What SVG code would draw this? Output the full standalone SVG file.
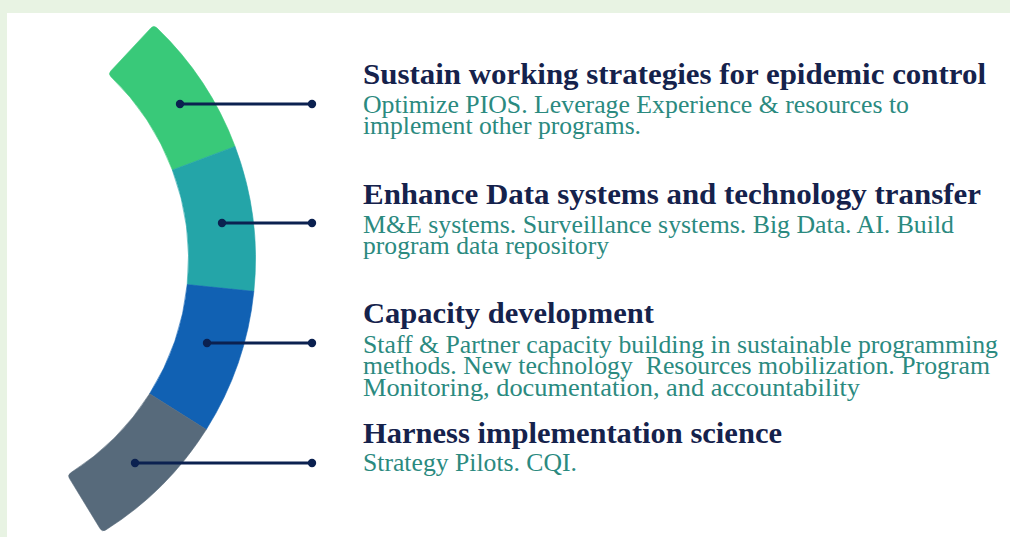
<svg xmlns="http://www.w3.org/2000/svg" width="1010" height="537" viewBox="0 0 1010 537">
  <style>
    .title { font-family: "Liberation Serif", "Times New Roman", serif; font-weight: bold; font-size: 29.5px; fill: #15224c; }
    .desc { font-family: "Liberation Serif", "Times New Roman", serif; font-size: 24.5px; fill: #2b8a7f; }
    .desc.big { font-size: 26px; }
    .link { stroke: #0b2150; stroke-width: 3; fill: none; }
    .dot { fill: #0b2150; }
  </style>

  <!-- page frame -->
  <rect x="0" y="0" width="1010" height="537" fill="#e8f3e3"/>
  <rect x="7" y="13" width="1003" height="524" fill="#ffffff"/>

  <!-- curved band, four segments around a common centre -->
  <g id="seg-sustain">
    <path fill="#39c979" stroke="#39c979" stroke-width="0.6" d="M 110.78 71.03 L 151.01 27.88 Q 153.74 24.95 156.78 27.84 A 320 320 0 0 1 235.05 146.42 L 172.33 169.99 A 253 253 0 0 0 110.93 76.70 Q 108.05 73.96 110.78 71.03 Z"/>
  </g>
  <g id="seg-data">
    <path fill="#24a5a8" stroke="#24a5a8" stroke-width="0.6" d="M 235.05 146.42 A 320 320 0 0 1 253.86 291.34 L 187.20 284.57 A 253 253 0 0 0 172.33 169.99 Z"/>
  </g>
  <g id="seg-capacity">
    <path fill="#1161b3" stroke="#1161b3" stroke-width="0.6" d="M 253.86 291.34 A 320 320 0 0 1 206.28 429.52 L 149.59 393.81 A 253 253 0 0 0 187.20 284.57 Z"/>
  </g>
  <g id="seg-science">
    <path fill="#576a7b" stroke="#576a7b" stroke-width="0.6" d="M 206.28 429.52 A 320 320 0 0 1 105.76 529.95 Q 102.22 532.14 100.14 528.73 L 69.40 478.36 Q 67.32 474.95 70.67 472.86 A 253 253 0 0 0 149.59 393.81 Z"/>
  </g>

  <!-- leader lines -->
  <g id="connectors">
    <line class="link" x1="180" y1="104" x2="312" y2="104"/>
    <circle class="dot" cx="180" cy="104" r="4.2"/>
    <circle class="dot" cx="312" cy="104" r="4.2"/>
    <line class="link" x1="222" y1="223" x2="312" y2="223"/>
    <circle class="dot" cx="222" cy="223" r="4.2"/>
    <circle class="dot" cx="312" cy="223" r="4.2"/>
    <line class="link" x1="207" y1="343" x2="312" y2="343"/>
    <circle class="dot" cx="207" cy="343" r="4.2"/>
    <circle class="dot" cx="312" cy="343" r="4.2"/>
    <line class="link" x1="135" y1="463" x2="312" y2="463"/>
    <circle class="dot" cx="135" cy="463" r="4.2"/>
    <circle class="dot" cx="312" cy="463" r="4.2"/>
  </g>

  <!-- text blocks -->
  <g id="text-sustain">
    <text class="title" x="363" y="84" textLength="623" lengthAdjust="spacingAndGlyphs">Sustain working strategies for epidemic control</text>
    <text class="desc" x="363" y="113" textLength="546" lengthAdjust="spacingAndGlyphs">Optimize PIOS. Leverage Experience &amp; resources to</text>
    <text class="desc" x="363" y="134" textLength="278" lengthAdjust="spacingAndGlyphs">implement other programs.</text>
  </g>
  <g id="text-data">
    <text class="title" x="363" y="204" textLength="618" lengthAdjust="spacingAndGlyphs">Enhance Data systems and technology transfer</text>
    <text class="desc" x="363" y="233" textLength="591" lengthAdjust="spacingAndGlyphs">M&amp;E systems. Surveillance systems. Big Data. AI. Build</text>
    <text class="desc" x="363" y="254" textLength="246" lengthAdjust="spacingAndGlyphs">program data repository</text>
  </g>
  <g id="text-capacity">
    <text class="title" x="363" y="323" textLength="291" lengthAdjust="spacingAndGlyphs">Capacity development</text>
    <text class="desc" x="363" y="353" textLength="635" lengthAdjust="spacingAndGlyphs">Staff &amp; Partner capacity building in sustainable programming</text>
    <text class="desc" x="363" y="374" textLength="627" lengthAdjust="spacingAndGlyphs" xml:space="preserve">methods. New technology  Resources mobilization. Program</text>
    <text class="desc big" x="363" y="396" textLength="497" lengthAdjust="spacingAndGlyphs">Monitoring, documentation, and accountability</text>
  </g>
  <g id="text-science">
    <text class="title" x="363" y="443" textLength="419" lengthAdjust="spacingAndGlyphs">Harness implementation science</text>
    <text class="desc" x="363" y="471" textLength="214" lengthAdjust="spacingAndGlyphs">Strategy Pilots. CQI.</text>
  </g>
</svg>
